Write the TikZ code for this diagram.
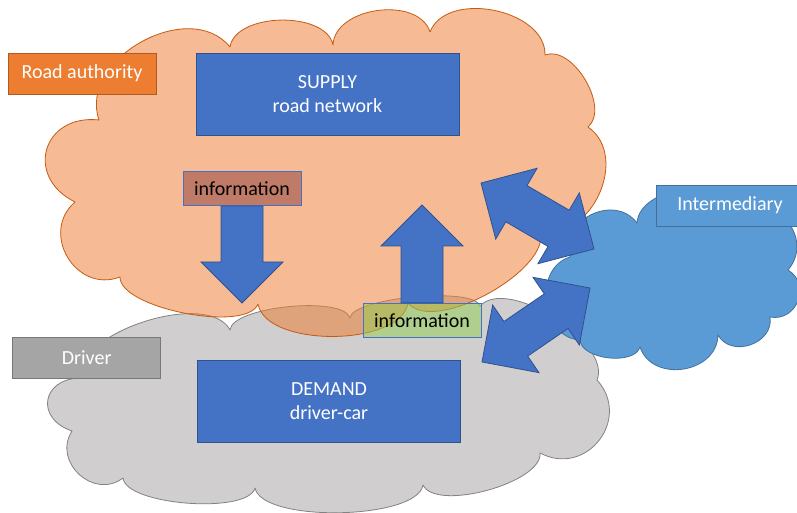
\documentclass[tikz,border=0pt]{standalone}
\usepackage{fontspec}
\setmainfont{Carlito}
\usetikzlibrary{calc}

\definecolor{accblue}{RGB}{68,114,196}
\definecolor{accblueline}{RGB}{47,82,143}
\definecolor{accorange}{RGB}{237,125,49}
\definecolor{orangeline}{RGB}{197,90,17}
\definecolor{authorityline}{RGB}{174,90,33}
\definecolor{accgray}{RGB}{165,165,165}
\definecolor{grayline}{RGB}{120,120,120}
\definecolor{cloudgray}{RGB}{208,206,206}
\definecolor{cloudgrayline}{RGB}{130,130,130}
\definecolor{skyblue}{RGB}{91,155,213}
\definecolor{skyblueline}{RGB}{65,113,156}
\definecolor{infobrown}{RGB}{192,123,104}
\definecolor{infogreen}{RGB}{146,208,80}

% block arrows between two named points
\newcommand{\onewayarrow}[2]{%
  \draw[blockarrow] ($(#1)!21pt!90:(#2)$)
    -- ($(#2)!41pt!(#1)!21pt!-90:(#1)$)
    -- ($(#2)!41pt!(#1)!41pt!-90:(#1)$)
    -- (#2)
    -- ($(#2)!41pt!(#1)!41pt!90:(#1)$)
    -- ($(#2)!41pt!(#1)!21pt!90:(#1)$)
    -- ($(#1)!21pt!-90:(#2)$) -- cycle;}
\newcommand{\twowayarrow}[2]{%
  \draw[blockarrow] (#1)
    -- ($(#1)!41pt!(#2)!41pt!90:(#2)$)
    -- ($(#1)!41pt!(#2)!21pt!90:(#2)$)
    -- ($(#2)!41pt!(#1)!21pt!-90:(#1)$)
    -- ($(#2)!41pt!(#1)!41pt!-90:(#1)$)
    -- (#2)
    -- ($(#2)!41pt!(#1)!41pt!90:(#1)$)
    -- ($(#2)!41pt!(#1)!21pt!90:(#1)$)
    -- ($(#1)!41pt!(#2)!21pt!-90:(#2)$)
    -- ($(#1)!41pt!(#2)!41pt!-90:(#2)$) -- cycle;}

\begin{document}
\begin{tikzpicture}[x=1pt,y=1pt,
  puff/.style={bend left=80, looseness=#1},
  cloudline/.style={line width=0.8pt, line join=round},
  labelbox/.style={draw, line width=0.8pt, text=white, minimum width=148pt, minimum height=41pt, inner sep=0pt, font=\fontsize{20}{24}\selectfont},
  mainbox/.style={draw=accblueline, fill=accblue, line width=0.8pt, text=white, align=center, minimum width=263pt, minimum height=82pt, inner sep=0pt, font=\fontsize{20}{24.5}\selectfont},
  infobox/.style={draw=accblue, line width=0.8pt, minimum width=118pt, minimum height=34pt, inner sep=0pt, font=\fontsize{20}{24}\selectfont},
  blockarrow/.style={draw=accblueline, fill=accblue, line width=0.8pt, line join=miter}]
\clip (0,0) rectangle (797,513);

%Clouds
\draw[cloudline, draw=cloudgrayline, fill=cloudgray] (80,135) to[puff=0.75] (230,183) to[puff=0.5] (350,195)
  to[puff=0.4] (480,207) to[puff=0.75] (597,133) to[puff=1.45] (540,60) to[puff=0.63] (423,28)
  to[puff=0.54] (255,25) to[puff=0.53] (123,35) to[puff=1.35] (72,82) to[puff=1.85] (80,135) -- cycle;
\draw[cloudline, draw=orangeline, fill=accorange, fill opacity=0.52] (99,393) to[puff=1.1] (230,466)
  to[puff=0.87] (333,468) to[puff=1.0] (430,481) to[puff=1.0] (545,458) to[puff=0.9] (588,386)
  to[puff=1.17] (540,283) to[puff=0.7] (408,210) to[puff=0.76] (258,209) to[puff=0.57] (120,236)
  to[puff=1.38] (75,311) to[puff=1.7] (99,393) -- cycle;
\draw[cloudline, draw=skyblueline, fill=skyblue] (570,256) to[puff=1.3] (637,290) to[puff=0.95] (740,301)
  to[puff=1.4] (788,243) to[puff=1.4] (770,196) to[puff=1.25] (718,178) to[puff=1.25] (640,166)
  to[puff=0.83] (580,173) to[puff=1.2] (570,256) -- cycle;

%Nodes
\node[mainbox] (supply) at (327.5,419) {SUPPLY\\road network};
\node[mainbox] (demand) at (329,112) {DEMAND\\driver-car};
\node[labelbox, draw=authorityline, fill=accorange] (authority) at (82,439.5) {Road authority};
\node[labelbox, draw=grayline, fill=accgray] (driver) at (86.7,155.5) {Driver};
\node[labelbox, draw=skyblueline, fill=skyblue] (intermediary) at (730,307.5) {Intermediary};
\node[infobox, fill=infobrown] (infodown) at (242,324.3) {information};
\node[infobox, fill=infogreen, fill opacity=0.5, text opacity=1] (infoup) at (422,192.7) {information};

\coordinate (downtip) at (242,210);
\coordinate (uptip) at (422,308);
\coordinate (ne1) at (481,330);
\coordinate (ne2) at (594,264);
\coordinate (se1) at (482,151);
\coordinate (se2) at (590,225);

\onewayarrow{infodown.south}{downtip}
\onewayarrow{infoup.north}{uptip}
\twowayarrow{ne1}{ne2}
\twowayarrow{se1}{se2}
\end{tikzpicture}
\end{document}
